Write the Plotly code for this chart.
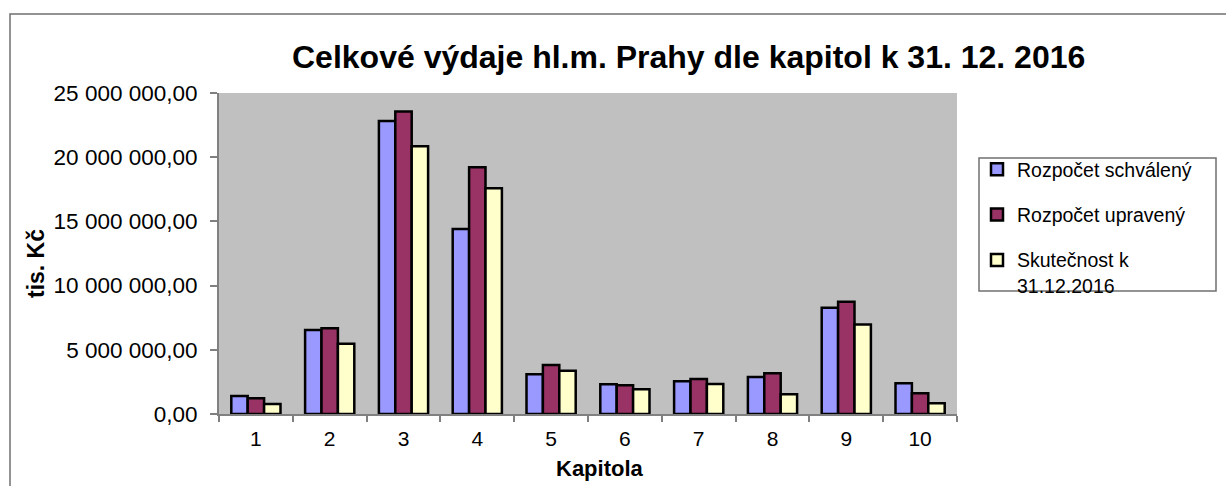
import plotly.graph_objects as go

categories = ["1", "2", "3", "4", "5", "6", "7", "8", "9", "10"]
schvaleny = [1.40e6, 6.54e6, 22.82e6, 14.41e6, 3.09e6, 2.31e6, 2.55e6, 2.88e6, 8.28e6, 2.39e6]
upraveny = [1.22e6, 6.67e6, 23.55e6, 19.21e6, 3.82e6, 2.23e6, 2.73e6, 3.17e6, 8.75e6, 1.61e6]
skutecnost = [0.78e6, 5.48e6, 20.85e6, 17.58e6, 3.37e6, 1.92e6, 2.34e6, 1.53e6, 6.98e6, 0.83e6]

series_names = ["Rozpočet schválený", "Rozpočet upravený", "Skutečnost k<br>31.12.2016"]
series_values = [schvaleny, upraveny, skutecnost]
series_colors = ["#9999FF", "#993366", "#FFFFCC"]

FONT = "Arial, Liberation Sans, sans-serif"

W, H = 1226, 486
L, R, T, B = 219, 957, 93, 414
pw, ph = R - L, B - T


def px(x):
    return (x - L) / pw


def py(y):
    return (B - y) / ph


fig = go.Figure()
for i, (name, vals, col) in enumerate(zip(series_names, series_values, series_colors)):
    fig.add_trace(go.Bar(
        x=categories, y=vals, name=name, legendgroup=f"g{i}",
        marker=dict(color=col, line=dict(color="#000000", width=2.5)),
    ))

fig.update_layout(
    width=W, height=H,
    margin=dict(l=L, r=W - R, t=T, b=H - B, pad=0),
    paper_bgcolor="white", plot_bgcolor="#C0C0C0",
    barmode="group", bargap=1.5 / 4.5, bargroupgap=0,
    separators=", ",
    font=dict(family=FONT, size=20, color="black"),
    showlegend=True,
    legend=dict(
        x=px(977), y=py(150), xanchor="left", yanchor="top",
        bgcolor="rgba(0,0,0,0)", borderwidth=0,
        font=dict(family=FONT, size=19.5, color="black"),
        tracegroupgap=17, valign="top",
    ),
    xaxis=dict(
        type="category", showgrid=False, zeroline=False,
        showline=True, linecolor="#808080", linewidth=2,
        ticks="outside", tickson="boundaries", ticklen=6, tickcolor="#808080", tickwidth=1.5,
        tickfont=dict(family=FONT, size=21, color="black"),
        ticklabelstandoff=5,
    ),
    yaxis=dict(
        range=[0, 25e6], dtick=5e6, tick0=0, tickformat=",.2f",
        showgrid=False, zeroline=False,
        showline=True, linecolor="#808080", linewidth=2,
        ticks="outside", ticklen=7, tickcolor="#808080", tickwidth=1.5,
        tickfont=dict(family=FONT, size=22.5, color="black"),
        ticklabelstandoff=8,
    ),
    shapes=[
        # outer chart border
        dict(type="rect", xref="paper", yref="paper",
             x0=px(10), x1=px(1240), y0=py(14), y1=py(500),
             line=dict(color="#707070", width=1.5), fillcolor="rgba(0,0,0,0)", layer="below"),
        # legend border
        dict(type="rect", xref="paper", yref="paper",
             x0=px(979), x1=px(1216), y0=py(158), y1=py(291),
             line=dict(color="#707070", width=1.5), fillcolor="rgba(0,0,0,0)"),
    ],
    annotations=[
        dict(text="<b>Celkové výdaje hl.m. Prahy dle kapitol k 31. 12. 2016</b>",
             xref="paper", yref="paper", x=px(688), y=py(57),
             xanchor="center", yanchor="middle", showarrow=False,
             font=dict(family=FONT, size=32, color="black")),
        dict(text="<b>Kapitola</b>", xref="paper", yref="paper",
             x=px(600), y=py(469), xanchor="center", yanchor="middle", showarrow=False,
             font=dict(family=FONT, size=22, color="black")),
        dict(text="<b>tis. Kč</b>", xref="paper", yref="paper",
             x=px(36), y=py(264), xanchor="center", yanchor="middle", showarrow=False,
             textangle=-90, font=dict(family=FONT, size=23, color="black")),
    ],
)

fig.write_html("out.html", config={"displayModeBar": False},
               post_script="document.body.style.margin='0';")
